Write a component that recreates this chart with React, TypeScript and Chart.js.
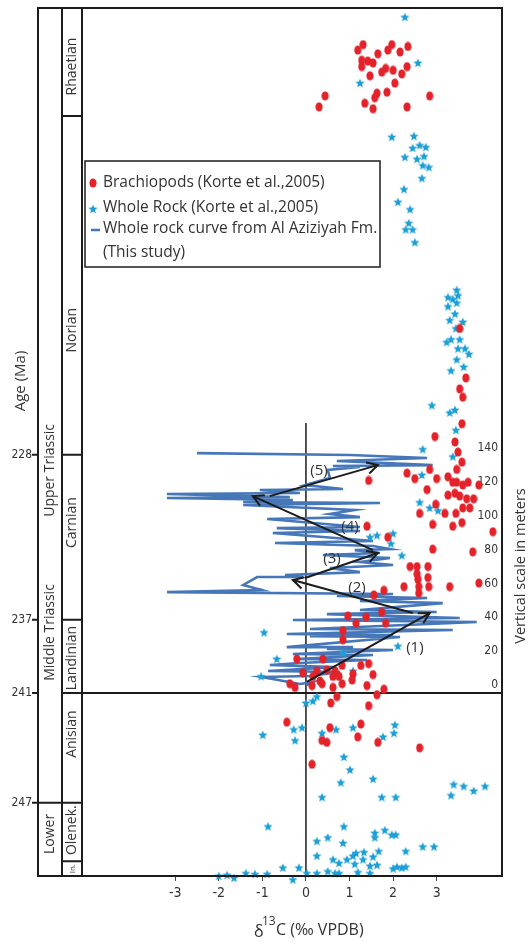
import React, { useEffect, useRef } from 'react';
import { Chart, registerables } from 'chart.js';
Chart.register(...registerables);

// ---------- Data ----------
// Brachiopods (Korte et al., 2005): δ13C vs age (Ma)
const brachX = [1.19,1.31,1.28,1.28,1.42,1.54,1.65,1.47,1.74,1.83,1.88,1.97,2.00,2.16,2.34,2.20,2.32,2.04,1.86,1.63,1.58,1.35,1.54,2.32,2.84,0.44,0.30,
3.53,3.67,3.53,3.60,3.58,2.96,3.42,3.49,3.58,3.46,2.32,2.50,2.84,3.00,2.78,3.26,3.37,3.46,3.60,3.72,3.97,3.26,3.42,3.53,3.69,3.85,2.98,3.19,3.44,3.60,3.76,2.61,3.58,3.37,2.91,4.29,1.44,1.40,1.88,2.91,3.83,2.39,2.55,2.80,2.55,2.57,2.80,2.25,2.59,2.82,3.30,3.97,2.59,1.79,1.56,1.74,1.83,0.96,1.38,1.15,0.85,0.85,-0.21,0.39,0.83,1.26,1.44,-0.07,0.25,0.48,0.67,1.08,0.16,0.32,0.62,0.76,1.54,-0.37,-0.25,0.14,0.37,0.62,0.83,1.40,1.79,1.63,0.71,0.57,1.44,-0.44,0.55,1.26,0.37,0.48,1.19,1.65,2.61,0.14,1.06];
const brachAge = [205.9,205.6,206.45,206.8,206.5,206.6,206.1,207.3,207.1,206.9,205.9,205.6,207.0,206.0,205.7,207.2,206.8,207.7,208.2,208.25,208.5,208.8,209.1,209.0,208.4,208.4,209.0,
221.1,223.8,224.4,224.85,226.3,227.0,227.3,227.85,228.4,228.8,229.0,229.3,228.8,229.3,229.9,229.2,229.5,229.5,229.65,229.5,229.65,230.2,230.1,230.25,230.4,230.4,230.7,231.2,231.2,230.9,230.9,231.2,231.7,231.9,231.8,232.2,229.4,231.9,232.5,233.15,233.3,234.1,234.1,234.1,234.5,234.8,234.7,235.2,235.2,235.2,235.2,235.0,235.55,235.4,235.65,236.6,237.2,236.8,236.85,237.2,237.6,238.1,239.15,239.15,239.5,239.5,239.4,239.9,239.8,239.75,239.8,239.97,240.1,240.35,240.1,240.1,240.0,240.5,240.7,240.6,240.5,240.7,240.5,240.6,240.8,241.1,241.2,241.55,241.7,242.6,242.9,242.7,243.6,243.7,243.4,243.7,244.0,244.9,240.3];

// Whole rock (Korte et al., 2005): δ13C vs age (Ma)
const rockX = [2.27,2.57,1.24,1.97,2.48,2.45,2.61,2.75,2.27,2.55,2.71,2.68,2.82,2.66,2.25,2.11,2.39,2.36,2.29,2.45,2.50,
3.46,3.49,3.26,3.37,3.26,3.46,3.42,3.30,3.60,3.44,3.23,3.33,3.53,3.49,3.65,3.74,3.46,3.62,3.33,
2.89,3.30,3.42,3.44,2.68,3.37,2.66,2.61,2.84,3.03,1.47,1.63,2.00,1.95,2.20,2.11,-0.96,-0.67,-1.03,0.85,1.08,0.25,
0.00,0.16,
-0.99,-0.28,-0.09,-0.25,0.37,0.69,1.08,1.77,2.02,2.04,
0.87,1.01,0.80,1.54,0.37,1.74,2.06,3.39,3.62,3.85,4.11,3.33,
-0.87,0.87,1.81,1.58,1.97,2.06,0.50,0.25,0.85,1.58,2.68,2.94,1.67,1.33,1.15,1.08,0.25,2.29,0.62,0.76,0.94,1.31,1.54,1.12,1.63,1.47,-0.53,-0.16,1.19,2.09,2.20,2.29,2.00,0.50,0.67,0.76,0.25,1.47,
-1.81,-1.65,-1.51,-1.38,-1.17,-0.89,-0.30,-0.07,0.02,-2.00];
const rockAge = [204.1,206.6,207.7,210.65,210.6,211.25,211.1,211.2,211.75,211.85,211.7,212.2,212.3,212.9,213.5,214.2,214.6,215.35,215.7,215.7,216.4,
219.0,219.3,219.4,219.5,219.9,219.7,220.3,220.65,220.75,221.1,221.85,221.7,221.7,222.2,222.2,222.5,222.8,223.2,223.4,
225.3,225.7,225.55,226.65,227.7,228.1,229.1,230.6,230.9,231.05,232.5,232.4,232.3,232.85,233.5,238.45,237.7,239.15,240.1,238.8,239.8,241.2,
241.55,241.45,
243.3,243.0,242.9,243.6,243.2,243.0,242.9,243.4,243.2,242.75,
244.5,245.2,245.9,245.7,246.7,246.7,246.7,246.0,246.1,246.35,246.1,246.6,
248.3,248.3,248.5,248.65,248.75,248.75,248.9,249.1,249.2,248.9,249.4,249.4,249.65,249.7,249.75,249.9,249.9,249.65,250.1,250.3,250.1,250.1,249.95,250.35,250.4,250.45,250.55,250.55,250.8,250.5,250.55,250.5,250.6,250.75,250.85,250.85,250.85,250.85,
250.95,251.1,251.3,250.85,250.9,250.9,251.2,251.3,250.85,251.0];

// Whole rock curve, Al Aziziyah Fm. (this study): δ13C vs meters
const curveX = [0.02,0.16,-0.14,-1.01,0.09,0.78,-0.87,0.67,-0.83,-0.14,1.40,-0.21,1.54,-0.30,2.00,0.48,1.08,-0.44,2.16,0.09,2.00,-0.44,3.37,0.09,3.92,-0.30,3.53,0.48,3.00,1.24,3.14,1.24,2.78,0.71,2.00,-3.19,-1.01,-1.44,-1.12,-0.07,-0.48,1.24,0.55,2.00,1.24,1.93,0.39,1.70,1.12,1.93,1.54,-0.71,1.54,-0.76,1.24,-0.67,1.24,-0.89,1.24,0.55,1.12,-1.44,1.70,-1.44,-0.30,-3.19,-0.37,-3.19,-0.14,-1.06,0.85,-0.02,0.55,0.50,1.24,0.62,2.91,0.71,2.78,1.01,-2.50];
const curveM = [0.0,1.8,0.6,4.7,5.3,7.7,8.3,10.6,11.8,13.0,14.8,15.4,17.7,18.3,20.7,21.3,22.4,22.4,28.4,28.9,29.5,30.1,32.5,33.1,37.2,38.4,39.6,41.9,43.1,44.3,48.4,49.6,51.4,52.6,53.8,54.9,56.1,59.1,63.8,63.8,65.0,66.7,69.1,70.9,72.7,75.0,76.8,78.0,79.7,80.3,82.1,83.9,85.1,89.8,91.0,92.7,93.3,98.1,99.2,101.0,103.4,106.3,107.5,108.1,109.3,110.5,111.0,112.8,113.4,115.2,115.8,118.1,122.3,127.0,128.8,129.4,129.9,132.3,134.1,135.9,137.0];

// Trend arrows (1)-(5) in δ13C / meters
const arrowLabels = ['(1)', '(2)', '(3)', '(4)', '(5)'];
const arrowStartX = [0.02, 2.45, -0.02, 1.54, -0.83];
const arrowStartM = [1.8, 42.5, 63.2, 79.7, 111.6];
const arrowEndX = [2.84, -0.30, 1.65, -1.22, 1.65];
const arrowEndM = [42.5, 62.0, 78.0, 111.6, 129.9];
const arrowLabelX = [2.50, 1.17, 0.60, 1.01, 0.30];
const arrowLabelM = [21.9, 57.3, 74.4, 93.3, 126.4];

// Zero reference line (meters extent)
const zeroLineM = [154.8, -112.8];

// Stratigraphy
const stageNames = ['Rhaetian', 'Norian', 'Carnian', 'Landinian', 'Anisian', 'Olenek.', 'In.'];
const stageBoundaries = [209.5, 228, 237, 241, 247, 250.2];
const stageLabelAges = [206.8, 221.2, 231.7, 239.1, 243.25, 248.5, 250.6];
const seriesNames = ['Upper Triassic', 'Middle Triassic', 'Lower'];
const seriesLabelAges = [228.85, 237.7, 248.7];
const seriesBoundaries = [247];
const crossLineAge = 241;

// Axes
const ageTicks = [228, 237, 241, 247];
const meterTicks = [0, 20, 40, 60, 80, 100, 120, 140];
const xTicks = [-3, -2, -1, 0, 1, 2, 3];

const SANS = "'Open Sans', 'Noto Sans', sans-serif";
const NARROW = "'Liberation Sans Narrow', 'DejaVu Sans Condensed', 'Roboto', sans-serif";
const INK = '#1c1c1c';
const TXT = '#333333';
const RED = '#e3222a';
const CYAN = '#1c9fd6';
const CURVE = '#4677b8';

function makeStar(color: string) {
  const c = document.createElement('canvas');
  c.width = 10; c.height = 10;
  const g = c.getContext('2d')!;
  g.fillStyle = color;
  g.beginPath();
  for (let i = 0; i < 10; i++) {
    const a = -Math.PI / 2 + (i * Math.PI) / 5;
    const r = i % 2 === 0 ? 4.8 : 2.1;
    g.lineTo(5 + r * Math.cos(a), 5.3 + r * Math.sin(a));
  }
  g.closePath();
  g.fill();
  return c;
}
function makeDot(color: string) {
  const c = document.createElement('canvas');
  c.width = 8; c.height = 10;
  const g = c.getContext('2d')!;
  g.fillStyle = color;
  g.beginPath();
  g.ellipse(4, 5, 3.6, 4.6, 0, 0, Math.PI * 2);
  g.fill();
  return c;
}

function vText(ctx: CanvasRenderingContext2D, text: string, x: number, y: number, size: number) {
  ctx.save();
  ctx.translate(x, y);
  ctx.rotate(-Math.PI / 2);
  ctx.font = `${size}px ${SANS}`;
  ctx.fillStyle = TXT;
  ctx.textAlign = 'center';
  ctx.textBaseline = 'middle';
  ctx.fillText(text, 0, 0);
  ctx.restore();
}

const COL1 = 38;
const COL2 = 62;

function noPad(s: any) {
  s.paddingTop = 0;
  s.paddingBottom = 0;
  s.paddingLeft = 0;
  s.paddingRight = 0;
}

export default function App() {
  const ref = useRef<HTMLCanvasElement>(null);
  useEffect(() => {
    const canvas = ref.current!;
    const starImg = makeStar(CYAN);
    const dotImg = makeDot(RED);

    const decor = {
      id: 'decor',
      beforeDatasetsDraw(chart: any) {
        const { ctx, chartArea: ca, scales } = chart;
        const py = scales.y.getPixelForValue(crossLineAge);
        ctx.save();
        ctx.strokeStyle = INK;
        ctx.lineWidth = 2;
        ctx.beginPath();
        ctx.moveTo(COL2, py);
        ctx.lineTo(ca.right, py);
        ctx.stroke();
        ctx.restore();
      },
      afterDatasetsDraw(chart: any) {
        const { ctx, scales } = chart;
        const xs = scales.x, ym = scales.yM;
        ctx.save();
        ctx.strokeStyle = INK;
        ctx.lineWidth = 2;
        for (let i = 0; i < arrowEndX.length; i++) {
          const x0 = xs.getPixelForValue(arrowStartX[i]);
          const y0 = ym.getPixelForValue(arrowStartM[i]);
          const x1 = xs.getPixelForValue(arrowEndX[i]);
          const y1 = ym.getPixelForValue(arrowEndM[i]);
          const ang = Math.atan2(y1 - y0, x1 - x0);
          const L = 12;
          ctx.beginPath();
          ctx.moveTo(x1 - L * Math.cos(ang - 0.5), y1 - L * Math.sin(ang - 0.5));
          ctx.lineTo(x1, y1);
          ctx.lineTo(x1 - L * Math.cos(ang + 0.5), y1 - L * Math.sin(ang + 0.5));
          ctx.stroke();
        }
        ctx.font = `15px ${SANS}`;
        ctx.fillStyle = TXT;
        ctx.textAlign = 'center';
        ctx.textBaseline = 'middle';
        for (let i = 0; i < arrowLabels.length; i++) {
          ctx.fillText(arrowLabels[i], xs.getPixelForValue(arrowLabelX[i]), ym.getPixelForValue(arrowLabelM[i]));
        }
        ctx.restore();
      },
      afterDraw(chart: any) {
        const { ctx, chartArea: ca, scales } = chart;
        const ys = scales.y;
        ctx.save();
        ctx.strokeStyle = INK;
        ctx.lineWidth = 2;
        // frame + columns
        ctx.strokeRect(COL1, ca.top, ca.right - COL1, ca.bottom - ca.top);
        ctx.beginPath();
        ctx.moveTo(COL2, ca.top); ctx.lineTo(COL2, ca.bottom);
        ctx.moveTo(ca.left, ca.top); ctx.lineTo(ca.left, ca.bottom);
        ctx.stroke();
        // stage boundaries
        ctx.beginPath();
        stageBoundaries.forEach((a) => {
          const p = ys.getPixelForValue(a);
          ctx.moveTo(COL2, p); ctx.lineTo(ca.left, p);
        });
        seriesBoundaries.forEach((a) => {
          const p = ys.getPixelForValue(a);
          ctx.moveTo(COL1, p); ctx.lineTo(COL2, p);
        });
        // age tick marks
        ageTicks.forEach((a) => {
          const p = ys.getPixelForValue(a);
          ctx.moveTo(COL1 - 6, p); ctx.lineTo(COL1, p);
        });
        ctx.stroke();
        // labels
        stageNames.forEach((n, i) => {
          vText(ctx, n, (COL2 + ca.left) / 2 + 0.5, ys.getPixelForValue(stageLabelAges[i]), n === 'In.' ? 8 : 14);
        });
        seriesNames.forEach((n, i) => {
          vText(ctx, n, (COL1 + COL2) / 2, ys.getPixelForValue(seriesLabelAges[i]), 14);
        });
        vText(ctx, 'Age (Ma)', 21, 381, 15);
        vText(ctx, 'Vertical scale in meters', 521, 566, 14.5);

        // x-axis title δ13C (‰ VPDB)
        ctx.fillStyle = TXT;
        ctx.textAlign = 'left';
        ctx.textBaseline = 'alphabetic';
        ctx.font = `16px ${SANS}`;
        ctx.fillText('δ', 254, 937);
        ctx.font = `12px ${SANS}`;
        ctx.fillText('13', 262, 925);
        ctx.font = `16px ${SANS}`;
        ctx.fillText('C (‰ VPDB)', 276, 935);

        // legend box
        ctx.fillStyle = '#ffffff';
        ctx.fillRect(85, 161, 295, 106);
        ctx.lineWidth = 1.5;
        ctx.strokeStyle = INK;
        ctx.strokeRect(85, 161, 295, 106);
        ctx.drawImage(dotImg, 89, 178);
        ctx.drawImage(starImg, 88, 204);
        ctx.strokeStyle = CURVE;
        ctx.lineWidth = 2.5;
        ctx.beginPath(); ctx.moveTo(91, 230); ctx.lineTo(100, 230); ctx.stroke();
        ctx.fillStyle = TXT;
        ctx.font = `15.5px ${SANS}`;
        ctx.textBaseline = 'middle';
        ctx.fillText('Brachiopods (Korte et al.,2005)', 103, 183);
        ctx.fillText('Whole Rock (Korte et al.,2005)', 103, 208);
        ctx.fillText('Whole rock curve from Al Aziziyah Fm.', 103, 229);
        ctx.fillText('(This study)', 103, 253);
        ctx.restore();
      },
    };

    const arrowSets = arrowEndX.map((_, i) => ({
      label: 'arrow ' + arrowLabels[i],
      data: [{ x: arrowStartX[i], y: arrowStartM[i] }, { x: arrowEndX[i], y: arrowEndM[i] }],
      yAxisID: 'yM',
      showLine: true,
      pointRadius: 0,
      borderColor: INK,
      borderWidth: 2,
    }));

    const chart = new Chart(canvas, {
      type: 'scatter',
      data: {
        datasets: [
          ...arrowSets,
          {
            label: 'Brachiopods (Korte et al.,2005)',
            data: brachX.map((x, i) => ({ x, y: brachAge[i] })),
            yAxisID: 'y',
            pointStyle: dotImg as any,
            pointRadius: 4,
            clip: false as any,
          },
          {
            label: 'Whole Rock (Korte et al.,2005)',
            data: rockX.map((x, i) => ({ x, y: rockAge[i] })),
            yAxisID: 'y',
            pointStyle: starImg as any,
            pointRadius: 4,
            clip: false as any,
          },
          {
            label: 'Whole rock curve from Al Aziziyah Fm. (This study)',
            data: curveX.map((x, i) => ({ x, y: curveM[i] })),
            yAxisID: 'yM',
            showLine: true,
            pointRadius: 0,
            borderColor: CURVE,
            borderWidth: 2.6,
            borderJoinStyle: 'miter' as any,
          },
          {
            label: 'zero',
            data: zeroLineM.map((m) => ({ x: 0, y: m })),
            yAxisID: 'yM',
            showLine: true,
            pointRadius: 0,
            borderColor: INK,
            borderWidth: 1.5,
          },
        ] as any,
      },
      options: {
        animation: false,
        responsive: false,
        layout: { padding: { top: 8, left: 0, right: 0, bottom: 0 } },
        plugins: { legend: { display: false }, tooltip: { enabled: false } },
        scales: {
          x: {
            type: 'linear',
            position: 'bottom',
            min: -5.14,
            max: 4.5,
            afterBuildTicks: (s: any) => { s.ticks = xTicks.map((v) => ({ value: v })); },
            afterFit: (s: any) => { s.height = 69; noPad(s); },
            grid: { display: true, drawOnChartArea: false, drawTicks: true, tickLength: 5, color: '#444' },
            border: { display: false },
            ticks: { font: { family: NARROW, size: 14 }, color: TXT, padding: 4, autoSkip: false, maxRotation: 0 },
          },
          y: {
            type: 'linear',
            position: 'left',
            reverse: true,
            min: 203.6,
            max: 251.0,
            afterBuildTicks: (s: any) => { s.ticks = ageTicks.map((v) => ({ value: v })); },
            afterFit: (s: any) => { s.width = 82; noPad(s); },
            grid: { display: false, drawTicks: false },
            border: { display: false },
            ticks: { font: { family: NARROW, size: 12 }, color: TXT, padding: 50, autoSkip: false },
          },
          yM: {
            type: 'linear',
            position: 'right',
            min: -112.8,
            max: 399.9,
            afterBuildTicks: (s: any) => { s.ticks = meterTicks.map((v) => ({ value: v })); },
            afterFit: (s: any) => { s.width = 28; noPad(s); },
            grid: { display: false, drawTicks: false },
            border: { display: false },
            ticks: { mirror: true, font: { family: NARROW, size: 12 }, color: TXT, padding: -4, autoSkip: false },
          },
        },
      } as any,
      plugins: [decor],
    });
    return () => chart.destroy();
  }, []);

  return (
    <div style={{ position: 'fixed', left: 0, top: 0, width: 530, height: 945, background: '#ffffff' }}>
      <canvas ref={ref} width={530} height={945} style={{ width: 530, height: 945, display: 'block' }} />
    </div>
  );
}
